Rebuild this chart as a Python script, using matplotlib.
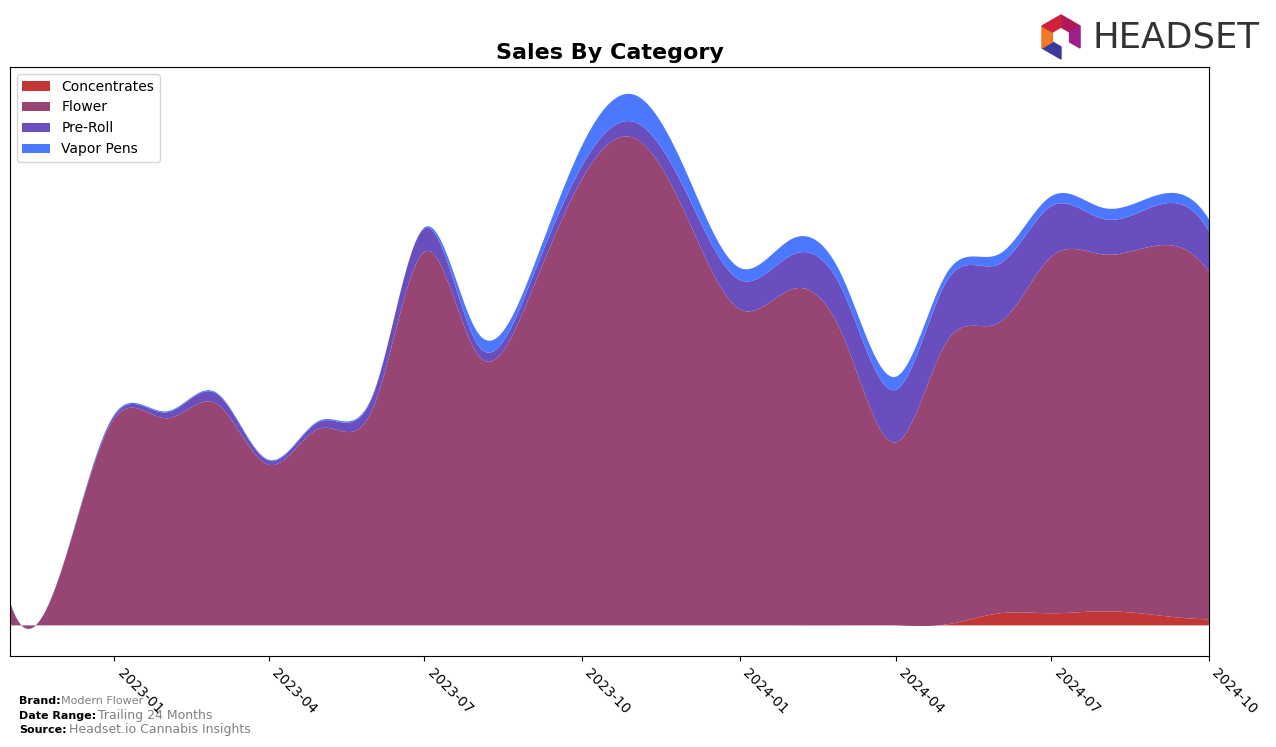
import numpy as np
import matplotlib
matplotlib.use("Agg")
import matplotlib.pyplot as plt
import matplotlib.dates as mdates
from matplotlib.patches import Polygon
import datetime as dt

# ---- data (monthly, relative units) ----
months = ["2022-11", "2022-12", "2023-01", "2023-02", "2023-03", "2023-04",
          "2023-05", "2023-06", "2023-07", "2023-08", "2023-09", "2023-10",
          "2023-11", "2023-12", "2024-01", "2024-02", "2024-03", "2024-04",
          "2024-05", "2024-06", "2024-07", "2024-08", "2024-09", "2024-10"]
categories = ["Concentrates", "Flower", "Pre-Roll", "Vapor Pens"]
concentrates = [0, 0, 0, 0, 0, 0, 0, 0, 0, 0, 0, 0,
                0, 0, 0, 0, 0, 0, 1, 12, 12, 14, 10, 6]
flower = [23, 54, 205, 205, 220, 159, 195, 215, 370, 268, 328, 442,
          482, 405, 313, 333, 288, 181, 280, 288, 353, 353, 366, 344]
preroll = [0.5, 0.5, 3, 6, 10, 4, 7, 13, 23, 10, 12, 13,
           16, 23, 29, 34, 44, 52, 60, 58, 50, 35, 40, 40]
vapor = [0, 0, 1, 1, 1, 1, 1, 1, 1, 12, 8, 20,
         27, 20, 12, 16, 13, 13, 8, 10, 10, 11, 10, 12]
colors = ["#C0302F", "#94406F", "#6648BC", "#4674FF"]


def cubic_spline(x, y, xs):
    """Not-a-knot cubic spline evaluation."""
    x = np.asarray(x, float)
    y = np.asarray(y, float)
    n = len(x)
    h = np.diff(x)
    A = np.zeros((n, n))
    b = np.zeros(n)
    for i in range(1, n - 1):
        A[i, i - 1] = h[i - 1]
        A[i, i] = 2 * (h[i - 1] + h[i])
        A[i, i + 1] = h[i]
        b[i] = 6 * ((y[i + 1] - y[i]) / h[i] - (y[i] - y[i - 1]) / h[i - 1])
    A[0, 0] = h[1]
    A[0, 1] = -(h[0] + h[1])
    A[0, 2] = h[0]
    A[-1, -3] = h[-1]
    A[-1, -2] = -(h[-2] + h[-1])
    A[-1, -1] = h[-2]
    M = np.linalg.solve(A, b)
    idx = np.clip(np.searchsorted(x, xs) - 1, 0, n - 2)
    x0, x1 = x[idx], x[idx + 1]
    hh = x1 - x0
    return (M[idx] * (x1 - xs) ** 3 / (6 * hh) + M[idx + 1] * (xs - x0) ** 3 / (6 * hh)
            + (y[idx] / hh - M[idx] * hh / 6) * (x1 - xs)
            + (y[idx + 1] / hh - M[idx + 1] * hh / 6) * (xs - x0))


dates = [dt.datetime.strptime(m, "%Y-%m") for m in months]
xnum = mdates.date2num(dates)
xs = np.linspace(xnum[0], xnum[-1], 400)
series = [concentrates, flower, preroll, vapor]
smooth = [cubic_spline(xnum, s, xs) for s in series]

fig = plt.figure(figsize=(12.76, 7.47), dpi=100)
ax = fig.add_axes([0.0078, 0.1218, 0.9397, 0.7885])
ax.stackplot(xs, *smooth, labels=categories, colors=colors, alpha=0.97)
ax.set_xlim(xnum[0], xnum[-1])
ax.set_yticks([])
ax.xaxis.set_major_locator(mdates.MonthLocator(bymonth=[1, 4, 7, 10]))
ax.xaxis.set_major_formatter(mdates.DateFormatter("%Y-%m"))
plt.setp(ax.get_xticklabels(), rotation=-45, ha="left")
ax.tick_params(axis="x", labelsize=10)
ax.set_title("Sales By Category", fontsize=16, fontweight="bold")
ax.legend(loc="upper left", fontsize=10, bbox_to_anchor=(0.0, 1.0))

# footer
fig.text(0.015, 0.061, "Brand:", fontsize=8, fontweight="bold", va="center")
fig.text(0.048, 0.061, "Modern Flower", fontsize=8, color="gray", va="center")
fig.text(0.015, 0.042, "Date Range:", fontsize=8, fontweight="bold", va="center")
fig.text(0.077, 0.042, "Trailing 24 Months", fontsize=9, color="gray", va="center")
fig.text(0.015, 0.023, "Source:", fontsize=8, fontweight="bold", va="center")
fig.text(0.054, 0.023, "Headset.io Cannabis Insights", fontsize=9, color="gray", va="center")

# logo
fig.text(1092 / 1276, 1 - 38 / 747, "HEADSET", fontsize=25.5, color="#333333",
         va="center", ha="left", family="DejaVu Sans")
cx, cy, r = 1061, 37, 22
W, H = 1276, 747
ang = np.deg2rad(np.array([90, 30, -30, -90, -150, 150]))
pts = [((cx + r * np.cos(a)) / W, 1 - (cy - r * np.sin(a)) / H) for a in ang]
ipts = [((cx + 0.45 * r * np.cos(a)) / W, 1 - (cy - 0.45 * r * np.sin(a)) / H) for a in ang]
seg_colors = ["#B0185A", "#A0208A", "#3A3A9A", "#3A3A9A", "#F07A2A", "#D0203A"]
for i in range(6):
    j = (i + 1) % 6
    if i == 2:
        continue
    poly = Polygon([pts[i], pts[j], ipts[j], ipts[i]], closed=True,
                   transform=fig.transFigure, color=seg_colors[i])
    fig.patches.append(poly)

fig.savefig("out.png", dpi=100)
